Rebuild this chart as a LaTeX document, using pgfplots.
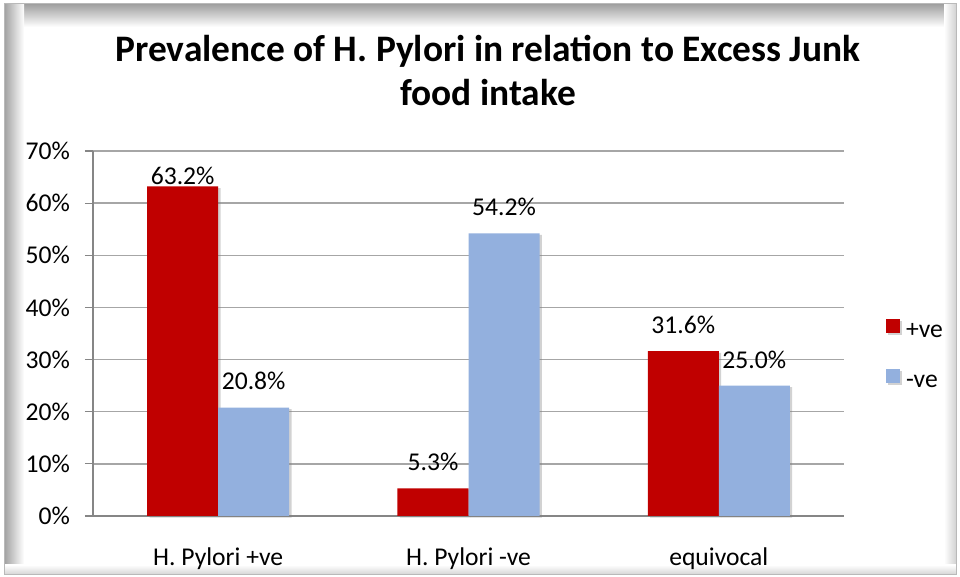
\documentclass[border=0pt]{standalone}
\usepackage{pgfplots}
\pgfplotsset{compat=1.18}
\usepackage{fontspec}
\setmainfont{Carlito}
\usetikzlibrary{shadows}
\definecolor{barred}{HTML}{C00000}
\definecolor{barblue}{HTML}{93B0DE}
\definecolor{gridc}{HTML}{A6A6A6}
\definecolor{axc}{HTML}{868686}
\newcommand{\lblfont}{\fontsize{12.8}{14}\selectfont}
\begin{document}
\begin{tikzpicture}
\useasboundingbox (0,0) rectangle (480pt,288.5pt);
% frame
\fill[white] (2pt,1pt) rectangle (478pt,286.5pt);
\shade[top color=gray!75, bottom color=white] (2pt,275pt) rectangle (478pt,286.5pt);
\shade[left color=gray!75, right color=white] (2pt,1pt) rectangle (12pt,286.5pt);
\shade[right color=gray!35, left color=white] (472pt,1pt) rectangle (478pt,286.5pt);
\shade[bottom color=gray!35, top color=white] (2pt,1pt) rectangle (478pt,6pt);
\draw[gray!55, line width=0.5pt] (2pt,1pt) rectangle (478pt,286.5pt);
% title
\node[anchor=base, font=\bfseries\fontsize{18.7}{22}\selectfont, inner sep=0pt] at (244pt,257.5pt) {Prevalence of H. Pylori in relation to Excess Junk};
\node[anchor=base, font=\bfseries\fontsize{18.7}{22}\selectfont, inner sep=0pt] at (244pt,235.5pt) {food intake};
\begin{axis}[
  at={(46.5pt,30.5pt)}, anchor=south west,
  scale only axis, width=375.5pt, height=182.5pt,
  ybar=0pt, bar width=35.5pt,
  xmin=-0.5, xmax=2.5, ymin=0, ymax=70,
  xtick={0,1,2}, xticklabels={H. Pylori +ve, H. Pylori -ve, equivocal},
  ytick={0,10,...,70},
  yticklabel={\pgfmathprintnumber{\tick}\%},
  /pgf/number format/assume math mode=true,
  axis x line=bottom, axis y line=left,
  axis line style={axc, line width=0.8pt, -},
  x axis line style={-},
  y axis line style={-},
  major x tick style={draw=none},
  major y tick style={axc, line width=0.6pt},
  tick align=outside, major tick length=4pt,
  ymajorgrids, grid style={gridc, line width=0.7pt},
  tick label style={font=\lblfont, black},
  xticklabel style={anchor=base, yshift=-21pt},
  yticklabel style={xshift=-4pt},
  nodes near coords={\pgfmathprintnumber[fixed, fixed zerofill, precision=1]{\pgfplotspointmeta}\%},
  every node near coord/.append style={font=\lblfont, black, anchor=base, yshift={ifthenelse(\yv>60,0.8,8.8)}},
  visualization depends on={rawy \as \yv},
  legend style={draw=none, fill=none, at={(1.056,0.437)}, anchor=west, inner sep=0pt, outer sep=0pt,
    font=\lblfont, row sep=12.5pt, cells={anchor=west},
    /tikz/every odd column/.append style={column sep=3pt},
    nodes={inner sep=0pt, text height=9pt, text depth=3pt}},
  legend image code/.code={\fill[#1, drop shadow={opacity=0}] (0pt,-0.5pt) rectangle (7pt,6.5pt);},
  clip=false,
]
\addplot[fill=barred, draw=none, drop shadow={shadow xshift=1.2pt, shadow yshift=-0.8pt, opacity=0.35}] coordinates {(0,63.2) (1,5.3) (2,31.6)};
\addplot[fill=barblue, draw=none, drop shadow={shadow xshift=1.2pt, shadow yshift=-0.8pt, opacity=0.35}] coordinates {(0,20.8) (1,54.2) (2,25.0)};
\legend{+ve, -ve}
\end{axis}
\end{tikzpicture}
\end{document}
